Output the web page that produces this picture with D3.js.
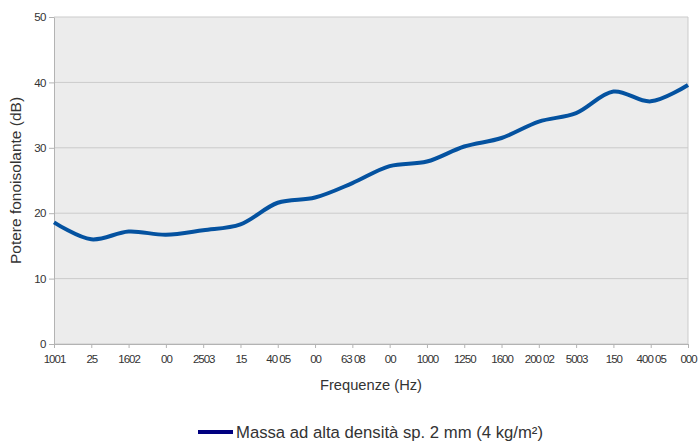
<!DOCTYPE html>
<html>
<head>
<meta charset="utf-8">
<script src="https://cdn.jsdelivr.net/npm/d3@7"></script>
<style>
  body { margin: 0; background: #fff; }
  text { font-family: "Liberation Sans", Arial, sans-serif; fill: #333; }
</style>
</head>
<body>
<div id="chart"></div>
<script>
// data
var frequencies = [100, 125, 160, 200, 250, 315, 400, 500, 630, 800, 1000, 1250, 1600, 2000, 2500, 3150, 4000, 5000];
var tickLabels = ["1001", "25", "1602", "00", "2503", "15", "40 05", "00", "63 08", "00", "1000", "1250", "1600", "200 02", "5003", "150", "400 05", "000"];
var isolation = [18.6, 16.0, 17.2, 16.7, 17.4, 18.3, 21.6, 22.4, 24.6, 27.2, 27.9, 30.2, 31.5, 34.0, 35.3, 38.6, 37.1, 39.6];
var yTicks = [0, 10, 20, 30, 40, 50];
var seriesName = "Massa ad alta densità sp. 2 mm (4 kg/m²)";

var margin = { top: 17, right: 12, bottom: 100, left: 54 },
  width = 700 - margin.left - margin.right,
  height = 444 - margin.top - margin.bottom;

var svg = d3.select("#chart")
  .append("svg")
  .attr("width", 700)
  .attr("height", 444)
  .append("g")
  .attr("transform", "translate(" + margin.left + "," + margin.top + ")");

var x = d3.scalePoint()
  .domain(frequencies)
  .range([0, width]);

var y = d3.scaleLinear()
  .domain([0, 50])
  .range([height, 0]);

// plot background
svg.append("rect")
  .attr("width", width)
  .attr("height", height)
  .style("fill", "#ececec");

// grid
svg.selectAll("grid")
  .data(yTicks)
  .enter()
  .append("line")
  .attr("x1", 0)
  .attr("x2", width)
  .attr("y1", function (d) { return y(d); })
  .attr("y2", function (d) { return y(d); })
  .style("stroke", "#cbcbcb")
  .style("stroke-width", 1);

svg.append("line")
  .attr("x1", width).attr("x2", width)
  .attr("y1", 0).attr("y2", height)
  .style("stroke", "#cbcbcb");

// X axis
var xAxis = svg.append("g")
  .attr("transform", "translate(0," + height + ")")
  .call(d3.axisBottom(x)
    .tickSizeInner(4).tickSizeOuter(0)
    .tickFormat(function (d, i) { return tickLabels[i]; }));
xAxis.selectAll("text")
  .style("font-size", "11.5px")
  .style("letter-spacing", "-1px")
  .attr("dy", "1.05em");

// Y axis
var yAxis = svg.append("g")
  .call(d3.axisLeft(y).tickValues(yTicks).tickSizeInner(5).tickSizeOuter(0));
yAxis.selectAll("text")
  .style("font-size", "11.5px")
  .style("letter-spacing", "-0.5px")
  .attr("x", -8);

svg.selectAll(".domain, .tick line").style("stroke", "#b3b3b3");

// line
svg.append("path")
  .datum(isolation)
  .attr("d", d3.line()
    .x(function (d, i) { return x(frequencies[i]); })
    .y(function (d) { return y(d); })
    .curve(d3.curveCatmullRom))
  .style("fill", "none")
  .style("stroke", "#0452a0")
  .style("stroke-width", 4)
  .style("stroke-linejoin", "round");

// axis titles
svg.append("text")
  .attr("x", width / 2)
  .attr("y", height + 46)
  .attr("text-anchor", "middle")
  .style("font-size", "14.7px")
  .text("Frequenze (Hz)");

svg.append("text")
  .attr("transform", "translate(" + (-33) + "," + (height / 2) + ")rotate(-90)")
  .attr("text-anchor", "middle")
  .style("font-size", "15.5px")
  .text("Potere fonoisolante (dB)");

// legend
var legend = svg.append("g")
  .attr("transform", "translate(" + (198 - margin.left) + "," + (432 - margin.top) + ")");
legend.append("line")
  .attr("x1", 0).attr("x2", 35)
  .style("stroke", "#000080")
  .style("stroke-width", 4);
legend.append("text")
  .attr("x", 38)
  .attr("y", 6)
  .style("font-size", "16.7px")
  .text(seriesName);
</script>
</body>
</html>
